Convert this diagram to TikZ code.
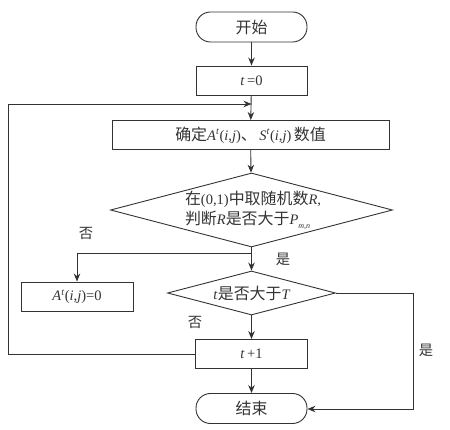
\documentclass[tikz,border=0pt]{standalone}
\usepackage{fontspec}
\setmainfont{Liberation Serif}
\newfontfamily\cjk{Noto Sans CJK SC}[Scale=1.1]
\newcommand{\vi}[1]{\textit{#1}}
\usetikzlibrary{shapes.geometric,arrows.meta}
\definecolor{ln}{HTML}{333333}
\begin{document}
\begin{tikzpicture}[x=1pt,y=-1pt,
  every node/.style={font=\fontsize{14.5}{16}\selectfont, inner sep=0pt, text=ln},
  box/.style={draw=ln, line width=0.9pt, minimum height=29pt, align=center},
  term/.style={draw=ln, line width=0.9pt, rounded corners=14.5pt, minimum width=111pt, minimum height=30pt},
  lbl/.style={font=\cjk\fontsize{13}{14}\selectfont},
  conn/.style={draw=ln, line width=0.9pt},
  arr/.style={conn, -{Stealth[length=8pt,width=6.5pt]}}]
\useasboundingbox (0,0) rectangle (450,430);
\node[term] (start) at (251.5,27) {\cjk 开始};
\node[box, minimum width=111pt] (t0) at (251.5,80.5) {\vi{t}\,=0};
\node[box, minimum width=277pt] (calc) at (250.5,135) {{\cjk 确定}\vi{A}\textsuperscript{\vi{t}}(\vi{i},\vi{j}){\cjk 、}\,\vi{S}\textsuperscript{\vi{t}}(\vi{i},\vi{j})\,{\cjk 数值}};
\node[draw=ln, line width=0.9pt, diamond, minimum width=282pt, minimum height=74pt, inner sep=0pt] (d1) at (251.5,210) {};
\node[align=left, font=\fontsize{14.5}{20}\selectfont] at (253,210) {{\cjk 在}(0,1){\cjk 中取随机数}\vi{R},\\{\cjk 判断}\vi{R}{\cjk 是否大于}\vi{P}\raisebox{-0.6ex}{\fontsize{8}{9}\selectfont\vi{m,n}}};
\node[box, minimum width=112pt] (a0) at (77,296.5) {\vi{A}\textsuperscript{\vi{t}}(\vi{i},\vi{j})=0};
\node[draw=ln, line width=0.9pt, diamond, minimum width=168pt, minimum height=44pt, inner sep=0pt] (d2) at (251.5,293) {};
\node at (252,293) {\vi{t}{\cjk 是否大于}\vi{T}};
\node[box, minimum width=112pt] (t1) at (251.5,354) {\vi{t}\,+1};
\node[term] (end) at (251.5,408.5) {\cjk 结束};
\coordinate (j1) at (251.5,253);
\coordinate (j1l) at (77,253);
\coordinate (lpA) at (8,354);
\coordinate (lpB) at (8,104);
\coordinate (lpC) at (251.5,104);
\coordinate (rA) at (413,293);
\coordinate (rB) at (413,409);
\draw[arr] (start) -- (t0);
\draw[arr] (t0) -- (calc);
\draw[arr] (calc) -- (d1);
\draw[arr] (d1.south) -- (d2.north);
\draw[arr] (j1) -- (j1l) -- (a0.north);
\draw[arr] (d2) -- (t1);
\draw[arr] (t1) -- (end);
\draw[arr] (t1.west) -- (lpA) -- (lpB) -- (lpC);
\draw[arr] (d2.east) -- (rA) -- (rB) -- (end.east |- rB);
\node[lbl] at (86,233) {否};
\node[lbl] at (283,259) {是};
\node[lbl] at (195,322) {否};
\node[lbl] at (426,350) {是};
\end{tikzpicture}
\end{document}
